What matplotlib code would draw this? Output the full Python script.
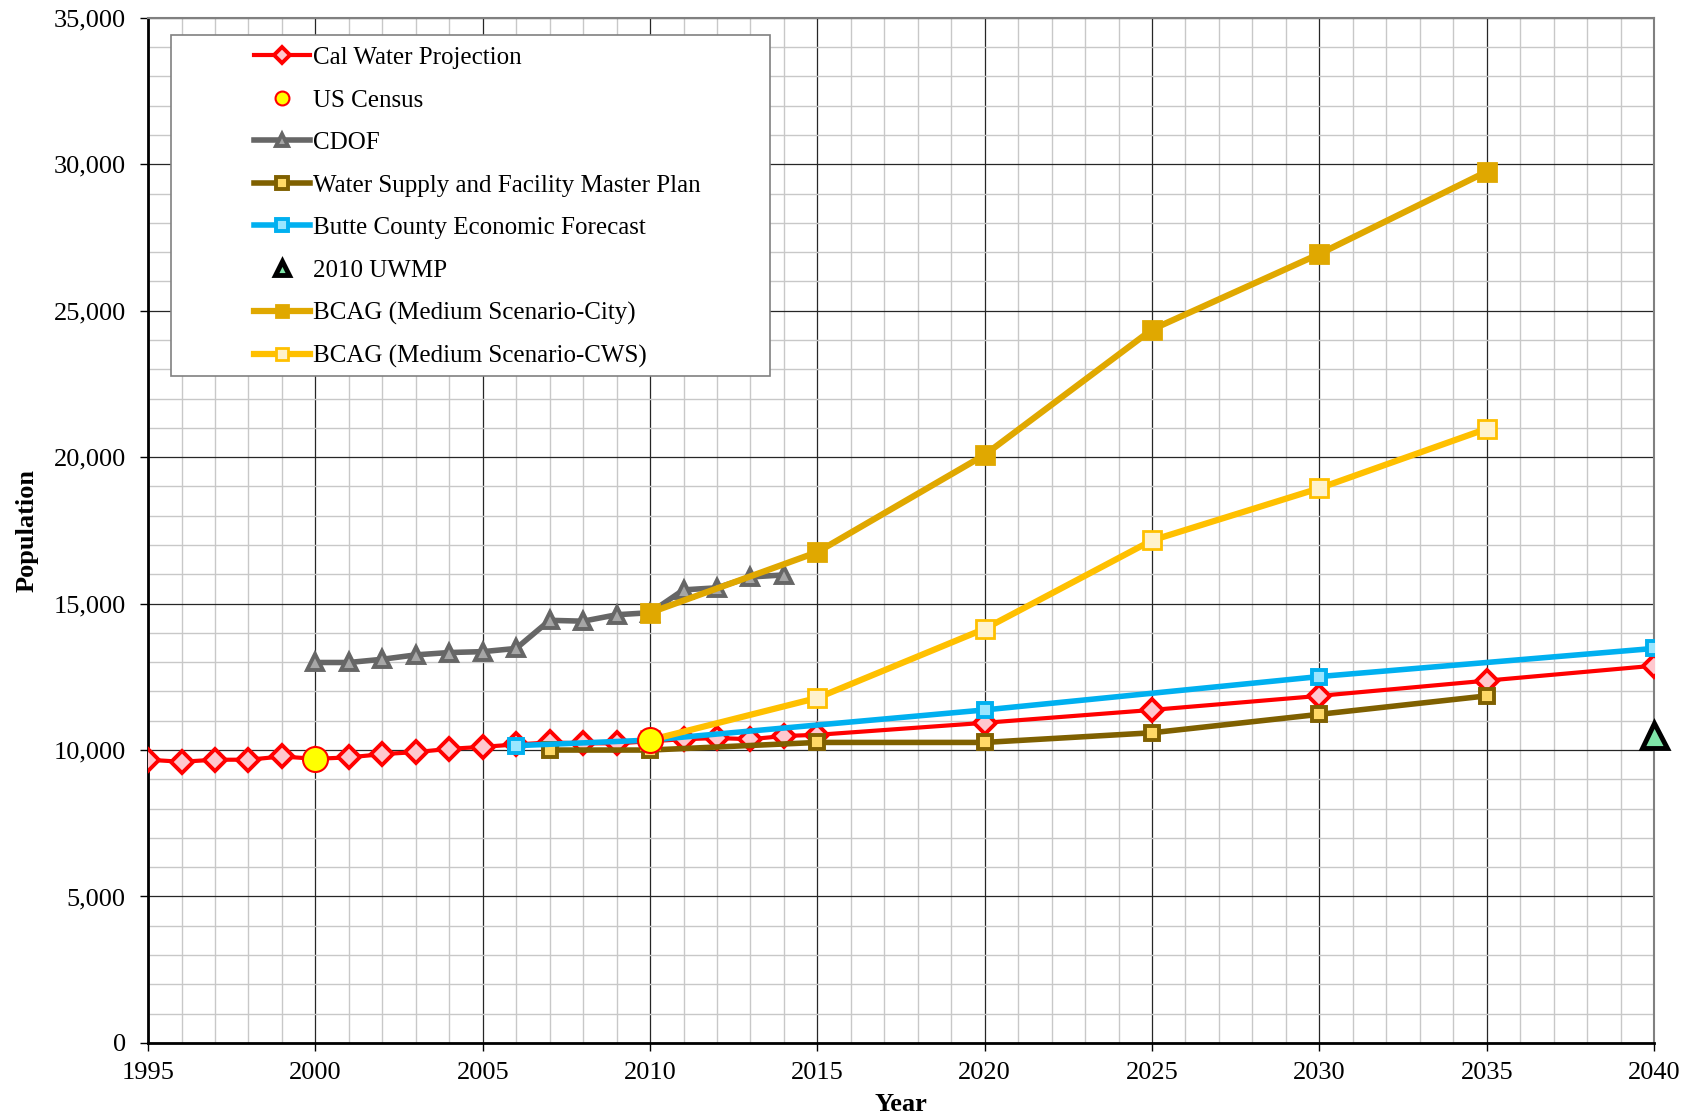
import matplotlib
matplotlib.use("Agg")
import matplotlib.pyplot as plt
from matplotlib.patches import Rectangle
from matplotlib.ticker import MultipleLocator, FuncFormatter

plt.rcParams['font.family'] = ['Liberation Serif', 'DejaVu Serif']

# --- data ---
cal_years = list(range(1995, 2016)) + [2020, 2025, 2030, 2035, 2040]
cal_pop = [9670, 9600, 9670, 9670, 9780, 9700, 9750, 9860, 9930, 10040, 10110,
           10190, 10260, 10230, 10230, 10300, 10370, 10410, 10370, 10480, 10520,
           10930, 11370, 11850, 12370, 12880]

census_years = [2000, 2010]
census_pop = [9700, 10340]

cdof_years = list(range(2000, 2015))
cdof_pop = [12990, 12990, 13100, 13250, 13330, 13360, 13470, 14430, 14400,
            14620, 14690, 15470, 15540, 15910, 15980]

master_years = [2007, 2010, 2015, 2020, 2025, 2030, 2035]
master_pop = [10000, 10000, 10260, 10260, 10590, 11220, 11850]

butte_years = [2006, 2010, 2020, 2030, 2040]
butte_pop = [10150, 10340, 11370, 12510, 13470]

uwmp_years = [2040]
uwmp_pop = [10500]

city_years = [2010, 2015, 2020, 2025, 2030, 2035]
city_pop = [14690, 16760, 20080, 24360, 26940, 29750]

cws_years = [2010, 2015, 2020, 2025, 2030, 2035]
cws_pop = [10340, 11780, 14140, 17160, 18940, 20970]

fig = plt.figure(figsize=(16.94, 11.19), dpi=100)
ax = fig.add_axes([0.0874, 0.068, 0.889, 0.916])

ax.plot(cal_years, cal_pop, color='#FF0000', lw=3, marker='D', ms=11.5,
        mfc='#FFC7CE', mec='#FF0000', mew=2.8, label='Cal Water Projection', zorder=3)
ax.plot(census_years, census_pop, ls='none', marker='o', ms=18,
        mfc='#FFFF00', mec='#FF0000', mew=1.5, label='US Census', zorder=10)
ax.plot(cdof_years, cdof_pop, color='#666666', lw=4, marker='^', ms=11,
        mfc='#A6A6A6', mec='#666666', mew=2.8, label='CDOF', zorder=4)
ax.plot(master_years, master_pop, color='#7F6000', lw=4, marker='s', ms=10.5,
        mfc='#FFD966', mec='#7F6000', mew=2.8,
        label='Water Supply and Facility Master Plan', zorder=4)
ax.plot(butte_years, butte_pop, color='#00B0F0', lw=4, marker='s', ms=10.5,
        mfc='#99E6FF', mec='#00B0F0', mew=2.8,
        label='Butte County Economic Forecast', zorder=5)
ax.plot(uwmp_years, uwmp_pop, ls='none', marker='^', ms=18,
        mfc='#7FE5A8', mec='#000000', mew=3.5, label='2010 UWMP',
        zorder=10, clip_on=False)
ax.plot(city_years, city_pop, color='#E0A800', lw=4.5, marker='s', ms=13,
        mfc='#E0A800', mec='#E0A800', mew=2,
        label='BCAG (Medium Scenario-City)', zorder=6)
ax.plot(cws_years, cws_pop, color='#FFC000', lw=4.5, marker='s', ms=13,
        mfc='#FFF2CC', mec='#FFC000', mew=2,
        label='BCAG (Medium Scenario-CWS)', zorder=6)

ax.set_xlim(1995, 2040)
ax.set_ylim(0, 35000)
ax.xaxis.set_major_locator(MultipleLocator(5))
ax.xaxis.set_minor_locator(MultipleLocator(1))
ax.yaxis.set_major_locator(MultipleLocator(5000))
ax.yaxis.set_minor_locator(MultipleLocator(1000))
ax.yaxis.set_major_formatter(FuncFormatter(lambda v, p: f'{int(v):,}'))

ax.grid(which='major', color='#262626', lw=0.9, zorder=0)
ax.grid(which='minor', color='#C8C8C8', lw=1.0, zorder=0)
ax.set_axisbelow(True)

ax.tick_params(which='major', direction='out', length=6, labelsize=19, width=1)
ax.tick_params(which='minor', length=0)
ax.tick_params(axis='x', pad=8)
ax.tick_params(axis='y', pad=10)

for side in ['top', 'right']:
    ax.spines[side].set_color('#808080')
    ax.spines[side].set_linewidth(1.5)
for side in ['left', 'bottom']:
    ax.spines[side].set_color('#000000')
    ax.spines[side].set_linewidth(2)

ax.set_xlabel('Year', fontsize=19, fontweight='bold', labelpad=6)
ax.set_ylabel('Population', fontsize=19, fontweight='bold', labelpad=11)

# legend box drawn separately so it can be wider than its contents
box = Rectangle((0.015, 0.651), 0.398, 0.332, transform=ax.transAxes,
                facecolor='white', edgecolor='#808080', lw=1.2, zorder=19)
ax.add_patch(box)

leg = ax.legend(loc='upper left', bbox_to_anchor=(0.0705, 0.972), fontsize=18,
                frameon=False, handlelength=2.25, handletextpad=0.12,
                labelspacing=0.80, borderpad=0, borderaxespad=0)
leg.set_zorder(20)
sizes = [8.5, 10, 9, 9, 9, 10, 9, 9]
for h, s in zip(leg.legend_handles, sizes):
    h.set_markersize(s)

fig.savefig('out.png', dpi=100)
